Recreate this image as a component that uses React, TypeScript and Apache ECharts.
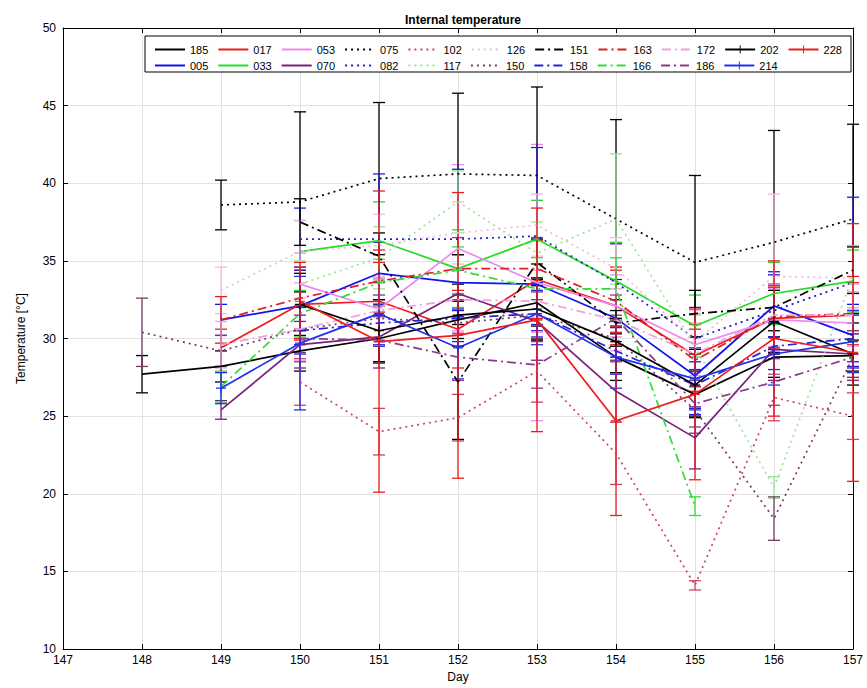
import React, { useEffect, useRef } from "react";
import * as echarts from "echarts";

const days = [148, 149, 150, 151, 152, 153, 154, 155, 156, 157];
const xTicks = [147, 148, 149, 150, 151, 152, 153, 154, 155, 156, 157];
const yTicks = [10, 15, 20, 25, 30, 35, 40, 45, 50];

const legendRow1 = ["185", "017", "053", "075", "102", "126", "151", "163", "172", "202", "228"];
const legendRow2 = ["005", "033", "070", "082", "117", "150", "158", "166", "186", "214"];

// mean values per animal (null = no measurement)
const v185 = [27.7, 28.2, 29.2, 30.0, 31.2, 32.3, 28.8, 26.4, 28.8, 28.9];
const v005 = [null, 31.2, 32.1, 34.2, 33.6, 33.5, 31.3, 27.6, 32.1, 30.2];
const v017 = [null, 29.4, 32.2, 32.4, 30.6, 33.8, 32.1, 28.9, 31.3, 31.5];
const v033 = [null, null, 35.6, 36.3, 34.5, 36.4, 33.7, 30.8, 32.9, 33.7];
const v053 = [null, null, 33.5, 31.9, 35.8, 33.6, 32.1, 29.6, 31.2, 31.0];
const v070 = [null, 25.4, 29.6, 30.1, 32.9, 31.1, 26.6, 23.6, 29.3, 29.0];
const v075 = [null, 38.6, 38.8, 40.3, 40.6, 40.5, 37.7, 34.9, 36.2, 37.7];
const v082 = [null, null, 36.4, 36.4, 36.4, 36.6, 33.6, 30.0, 31.8, 33.6];
const v102 = [null, null, 27.2, 24.0, 24.9, 27.9, 22.6, 14.1, 26.2, 25.0];
const v117 = [null, null, 33.5, 35.2, 38.8, 35.5, 37.7, 29.5, 20.4, 34.0];
const v126 = [null, 33.1, 35.6, 36.0, 36.8, 37.3, 34.5, 29.8, 34.0, 33.9];
const v150 = [30.4, 29.2, 30.6, 31.3, 31.0, 31.5, 30.0, 25.4, 18.4, 28.8];
const v151 = [null, null, 37.5, 35.3, 27.2, 34.9, 31.0, 31.6, 32.0, 34.4];
const v158 = [null, null, 30.5, 31.0, 31.3, 31.6, 29.2, 27.0, 29.5, 30.0];
const v163 = [null, 31.2, 32.6, 33.7, 34.5, 34.5, 32.4, 28.6, 31.4, 31.6];
const v166 = [null, 26.9, 31.6, 33.6, 34.4, 33.2, 33.2, 19.2, null, null];
const v172 = [null, 29.6, 30.6, 31.8, 32.5, 32.4, 31.2, 29.0, 31.5, 31.5];
const v186 = [null, null, 30.0, 29.9, 28.8, 28.3, 31.3, 25.8, 27.2, 28.8];
const v202 = [null, null, 32.2, 30.5, 31.5, 31.9, 29.8, 27.0, 31.1, 29.0];
const v214 = [null, 26.8, 29.7, 31.6, 29.4, 31.6, 28.8, 27.4, 29.0, 29.8];
const v228 = [null, null, 32.4, 29.8, 30.2, 31.2, 24.7, 26.4, 30.0, 29.1];

// standard deviations (error bar half-lengths)
const e185 = [1.2, 1.0, 1.3, 1.5, 1.2, 1.5, 1.5, 1.5, 1.3, 1.0];
const e005 = [null, 1.0, 2.5, 2.0, 1.8, 3.0, 2.5, 2.5, 2.0, 2.0];
const e017 = [null, 1.2, 2.2, 2.5, 2.5, 2.5, 2.5, 2.0, 2.0, 2.5];
const e033 = [null, null, 2.0, 2.5, 2.5, 2.5, 2.5, 2.0, 2.0, 2.0];
const e053 = [null, null, 2.0, 2.0, 5.4, 8.9, 2.0, 2.0, 2.0, 2.0];
const e070 = [null, 0.6, 1.5, 2.0, 1.5, 2.5, 2.0, 2.0, 2.0, 1.5];
const e075 = [null, 1.6, 5.8, 4.9, 5.2, 5.7, 6.4, 5.6, 7.2, 6.1];
const e082 = [null, null, 2.0, 4.2, 4.5, 5.7, 2.5, 2.0, 2.5, 5.5];
const e102 = [null, null, 1.5, 1.5, 1.5, 2.0, 2.0, 0.3, 1.5, 1.5];
const e117 = [null, null, 1.5, 2.0, 2.0, 2.0, 4.2, 2.0, 0.7, 2.0];
const e126 = [null, 1.5, 2.0, 2.0, 2.0, 2.0, 2.0, 2.0, 5.3, 2.0];
const e150 = [2.2, 1.0, 1.5, 1.5, 1.5, 1.5, 1.5, 1.5, 1.4, 1.5];
const e151 = [null, null, 1.5, 1.5, 3.7, 1.5, 1.5, 1.5, 1.5, 1.5];
const e158 = [null, null, 1.5, 1.5, 1.5, 1.5, 1.5, 1.5, 1.5, 1.5];
const e163 = [null, 1.5, 2.0, 2.0, 2.0, 2.0, 2.0, 2.0, 2.0, 2.0];
const e166 = [null, 1.0, 1.5, 1.5, 1.5, 2.0, 2.0, 0.6, null, null];
const e172 = [null, 1.5, 2.0, 2.0, 2.0, 2.0, 2.0, 2.0, 2.0, 2.0];
const e186 = [null, null, 1.5, 1.5, 1.5, 1.5, 1.5, 1.5, 1.5, 1.5];
const e202 = [null, null, 2.0, 2.0, 2.0, 2.0, 2.0, 2.0, 2.0, 2.0];
const e214 = [null, 1.0, 4.3, 2.0, 2.0, 2.0, 2.0, 2.0, 2.0, 2.0];
const e228 = [null, null, 2.5, 9.7, 9.2, 7.2, 6.1, 5.5, 5.0, 8.3];

const SOLID = "solid";
const DOT = [2, 4];
const DASHDOT = [9, 4, 2, 4];
const PLUS = "path://M0,4.4 L10,4.4 L10,5.6 L0,5.6 Z M4.4,0 L5.6,0 L5.6,10 L4.4,10 Z";

const defs: any[] = [
  { name: "185", v: v185, e: e185, color: "#000000", dash: SOLID },
  { name: "005", v: v005, e: e005, color: "#1414ee", dash: SOLID },
  { name: "017", v: v017, e: e017, color: "#ee1c1c", dash: SOLID },
  { name: "033", v: v033, e: e033, color: "#22dd22", dash: SOLID },
  { name: "053", v: v053, e: e053, color: "#ee88ee", dash: SOLID },
  { name: "070", v: v070, e: e070, color: "#7b1f7b", dash: SOLID },
  { name: "075", v: v075, e: e075, color: "#000000", dash: DOT },
  { name: "082", v: v082, e: e082, color: "#2222cc", dash: DOT },
  { name: "102", v: v102, e: e102, color: "#cc4466", dash: DOT },
  { name: "117", v: v117, e: e117, color: "#99e699", dash: DOT },
  { name: "126", v: v126, e: e126, color: "#f4b8e0", dash: DOT },
  { name: "150", v: v150, e: e150, color: "#7a3a6a", dash: DOT },
  { name: "151", v: v151, e: e151, color: "#000000", dash: DASHDOT },
  { name: "158", v: v158, e: e158, color: "#2222dd", dash: DASHDOT },
  { name: "163", v: v163, e: e163, color: "#dd2020", dash: DASHDOT },
  { name: "166", v: v166, e: e166, color: "#33dd33", dash: DASHDOT },
  { name: "172", v: v172, e: e172, color: "#f0a0e0", dash: DASHDOT },
  { name: "186", v: v186, e: e186, color: "#8a3a8a", dash: DASHDOT },
  { name: "202", v: v202, e: e202, color: "#000000", dash: SOLID, plus: true },
  { name: "214", v: v214, e: e214, color: "#2030ee", dash: SOLID, plus: true },
  { name: "228", v: v228, e: e228, color: "#ee1c1c", dash: SOLID, plus: true },
];

const FONT = "Liberation Sans, Arial, sans-serif";

export default function App() {
  const ref = useRef<HTMLDivElement>(null);
  useEffect(() => {
    if (!ref.current) return;
    const chart = echarts.init(ref.current, null, { renderer: "svg" });

    const lineSeries = defs.map((d) => ({
      name: d.name,
      type: "line",
      data: days.map((x, i) => [x, d.v[i]]).filter((p) => p[1] != null),
      symbol: d.plus ? PLUS : "none",
      symbolSize: 10,
      showSymbol: !!d.plus,
      itemStyle: { color: d.color },
      lineStyle: { color: d.color, width: 1.7, type: d.dash },
      emphasis: { disabled: true },
      z: 2,
    }));

    const errSeries = defs.map((d) => ({
      name: d.name,
      type: "custom",
      silent: true,
      data: days
        .map((x, i) => [x, d.v[i], d.e[i]])
        .filter((p) => p[1] != null && p[2] != null),
      encode: { x: 0, y: 1 },
      renderItem: (params: any, api: any) => {
        const x = api.value(0);
        const y = api.value(1);
        const e = api.value(2);
        const top = api.coord([x, y + e]);
        const bot = api.coord([x, y - e]);
        const w = 6;
        const style = { stroke: d.color, lineWidth: 1.3, fill: "none" };
        return {
          type: "group",
          children: [
            { type: "line", shape: { x1: top[0], y1: top[1], x2: bot[0], y2: bot[1] }, style },
            { type: "line", shape: { x1: top[0] - w, y1: top[1], x2: top[0] + w, y2: top[1] }, style },
            { type: "line", shape: { x1: bot[0] - w, y1: bot[1], x2: bot[0] + w, y2: bot[1] }, style },
          ],
        };
      },
      z: 2,
    }));

    const legendItem = (name: string) => {
      const d = defs.find((s) => s.name === name);
      if (d && d.plus) return { name };
      return {
        name,
        itemStyle: { opacity: 0, color: "transparent", borderColor: "transparent", borderWidth: 0 },
      };
    };

    const legendCommon = {
      orient: "horizontal",
      itemWidth: 30,
      itemHeight: 10,
      itemGap: 9,
      selectedMode: false,
      textStyle: { fontFamily: FONT, fontSize: 11, color: "#000", width: 20 },
      z: 10,
    };

    chart.setOption({
      animation: false,
      backgroundColor: "#ffffff",
      title: {
        text: "Internal temperature",
        left: 458,
        top: 9,
        textAlign: "center",
        textStyle: { fontFamily: FONT, fontSize: 12, fontWeight: "bold", color: "#000" },
      },
      legend: [
        { ...legendCommon, data: legendRow1.map(legendItem), left: 149, top: 39 },
        { ...legendCommon, data: legendRow2.map(legendItem), left: 149, top: 55 },
      ],
      graphic: [
        {
          type: "rect",
          shape: { x: 145, y: 36, width: 706, height: 36 },
          style: { fill: "#ffffff", stroke: "#000000", lineWidth: 1 },
          z: 9,
        },
      ],
      grid: { left: 63, right: 14, top: 28, bottom: 36, show: false },
      xAxis: [
        {
          type: "value",
          min: xTicks[0],
          max: xTicks[xTicks.length - 1],
          interval: 1,
          name: "Day",
          nameLocation: "middle",
          nameGap: 22,
          nameTextStyle: { fontFamily: FONT, fontSize: 12, color: "#000" },
          axisLine: { show: true, lineStyle: { color: "#000", width: 1 } },
          axisTick: { show: true, inside: true, length: 5, lineStyle: { color: "#000" } },
          axisLabel: { fontFamily: FONT, fontSize: 12, color: "#000", margin: 5 },
          splitLine: { show: true, lineStyle: { color: "#e2e2e2", width: 1 } },
        },
        {
          type: "value",
          position: "top",
          min: xTicks[0],
          max: xTicks[xTicks.length - 1],
          interval: 1,
          axisLine: { show: true, lineStyle: { color: "#000", width: 1 } },
          axisTick: { show: true, inside: true, length: 5, lineStyle: { color: "#000" } },
          axisLabel: { show: false },
          splitLine: { show: false },
        },
      ],
      yAxis: [
        {
          type: "value",
          min: yTicks[0],
          max: yTicks[yTicks.length - 1],
          interval: 5,
          name: "Temperature [°C]",
          nameLocation: "middle",
          nameGap: 36,
          nameTextStyle: { fontFamily: FONT, fontSize: 12, color: "#000" },
          axisLine: { show: true, lineStyle: { color: "#000", width: 1 } },
          axisTick: { show: true, inside: true, length: 5, lineStyle: { color: "#000" } },
          axisLabel: { fontFamily: FONT, fontSize: 12, color: "#000", margin: 7 },
          splitLine: { show: true, lineStyle: { color: "#e2e2e2", width: 1 } },
        },
        {
          type: "value",
          position: "right",
          min: yTicks[0],
          max: yTicks[yTicks.length - 1],
          interval: 5,
          axisLine: { show: true, lineStyle: { color: "#000", width: 1 } },
          axisTick: { show: true, inside: true, length: 5, lineStyle: { color: "#000" } },
          axisLabel: { show: false },
          splitLine: { show: false },
        },
      ],
      series: [...lineSeries, ...errSeries],
    });

    return () => chart.dispose();
  }, []);

  return (
    <div
      ref={ref}
      style={{ position: "absolute", left: 0, top: 0, width: 867, height: 688, background: "#fff" }}
    />
  );
}
